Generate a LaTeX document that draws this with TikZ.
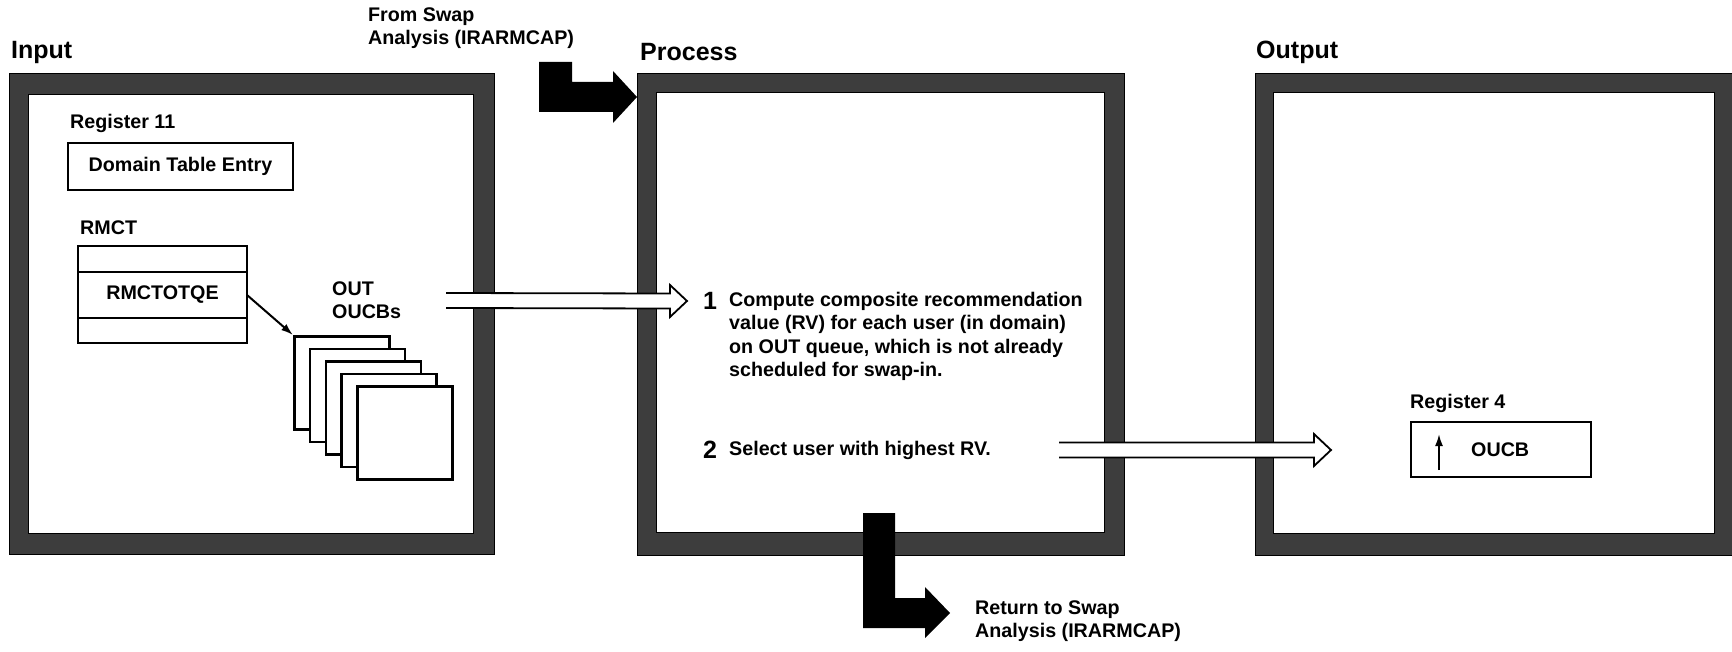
\documentclass[tikz,border=0pt]{standalone}
\usepackage{fontspec}
\setmainfont{Liberation Sans}
\usetikzlibrary{arrows.meta,positioning,calc}

\newcommand\bodyfont{\fontsize{19.7}{23.5}\selectfont\bfseries}
\newcommand\headfont{\fontsize{25}{28}\selectfont\bfseries}

% open-tailed white arrow between two named coordinates
\newcommand\hollowarrow[2]{%
  \path[hollow] ($(#1)+(0,-7.5)$) -- ($(#2)+(-17,-7.5)$) -- ($(#2)+(-17,-16)$)
    -- (#2) -- ($(#2)+(-17,16)$) -- ($(#2)+(-17,7.5)$) -- ($(#1)+(0,7.5)$);}

\tikzset{
  frame/.style={fill=black!76, draw=black, line width=1pt, even odd rule},
  title/.style={font=\headfont, anchor=west, inner sep=0pt},
  txt/.style={font=\bodyfont, anchor=west, inner sep=0pt, align=left},
  regbox/.style={draw, line width=2.3pt, inner sep=0pt, outer sep=0pt,
    font=\bodyfont},
  card/.style={draw, fill=white, line width=2.5pt, minimum width=95pt,
    minimum height=93pt, anchor=north west},
  hollow/.style={draw, fill=white, line width=1.8pt, line join=miter},
  bent/.style={fill=black},
  ptr/.style={-{Latex[length=12pt,width=8pt]}, line width=2pt},
  stepnum/.style={font=\fontsize{25}{28}\selectfont\bfseries, anchor=west,
    inner sep=0pt},
}

\begin{document}
\begin{tikzpicture}[x=1pt,y=-1pt]
  \useasboundingbox (0,0) rectangle (1732,652);

  % the three frames
  \path[frame] (9,74) rectangle (494,554) (28,95) rectangle (473,533);
  \path[frame] (637,74) rectangle (1124,555) (656,93) rectangle (1104,532);
  \path[frame] (1255,74) rectangle (1732,555) (1273,93) rectangle (1714,533);

  \node[title] (intitle) at (11,52) {Input};
  \node[title] (proctitle) at (640,52) {Process};
  \node[title] (outtitle) at (1256,52) {Output};

  % entry and exit
  \node[txt] (fromlbl) at (368,28) {From Swap\\Analysis (IRARMCAP)};
  \path[bent] (539,62) -- ++(33,0) -- ++(0,20) -- ++(41,0) -- ++(0,-11)
    -- ++(24,26) -- ++(-24,26) -- ++(0,-11) -- ++(-74,0) -- cycle;
  \path[bent] (863,513) -- ++(32,0) -- ++(0,85) -- ++(30,0) -- ++(0,-11)
    -- ++(25,26) -- ++(-25,25) -- ++(0,-10) -- ++(-62,0) -- cycle;
  \node[txt] (retlbl) at (975,621) {Return to Swap\\Analysis (IRARMCAP)};

  % input
  \node[txt] (reg11) at (70,123) {Register 11};
  \node[regbox, minimum width=225pt, minimum height=47pt, anchor=north west]
    (dte) at (68,143) {Domain Table Entry};
  \node[txt] (rmctlbl) at (80,228) {RMCT};
  \node[regbox, minimum width=169pt, minimum height=26pt, anchor=north west]
    (rmcttop) at (78,246) {};
  \node[regbox, minimum width=169pt, minimum height=46pt, below=0pt of rmcttop]
    (rmctq) {RMCTOTQE};
  \node[regbox, minimum width=169pt, minimum height=25pt, below=0pt of rmctq]
    (rmctbot) {};
  \foreach \i in {0,...,4}
    \node[card] (card\i) at ({293+15.75*\i},{335+12.5*\i}) {};
  \draw[ptr] (rmctq.east) -- (card0.north west);
  \node[txt] (outlbl) at (332,300) {OUT\\OUCBs};

  % process
  \node[stepnum] (n1) at (703,301) {1};
  \node[txt, anchor=north west] (s1) at (729,292)
    {Compute composite recommendation\\value (RV) for each user (in domain)\\
     on OUT queue, which is not already\\scheduled for swap-in.};
  \node[stepnum] (n2) at (703,450) {2};
  \node[txt] (s2) at (729,450) {Select user with highest RV.};

  % output
  \node[txt] (reg4) at (1410,403) {Register 4};
  \node[regbox, minimum width=180pt, minimum height=55pt, anchor=north west]
    (oucbreg) at (1411,422) {};
  \coordinate (ptrtail) at ($(oucbreg.south west)+(28,-7)$);
  \coordinate (ptrhead) at ($(oucbreg.north west)+(28,12)$);
  \draw[ptr] (ptrtail) -- (ptrhead);
  \node[txt] (oucbtxt) at (1471,450) {OUCB};

  % data flow
  \coordinate (flow1tail) at (446,300.5);
  \coordinate (flow1tip) at ($(n1.west)+(-16,0)$);
  \hollowarrow{flow1tail}{flow1tip}
  \coordinate (flow2tail) at (1059,450);
  \coordinate (flow2tip) at (1331,450);
  \hollowarrow{flow2tail}{flow2tip}
\end{tikzpicture}
\end{document}
